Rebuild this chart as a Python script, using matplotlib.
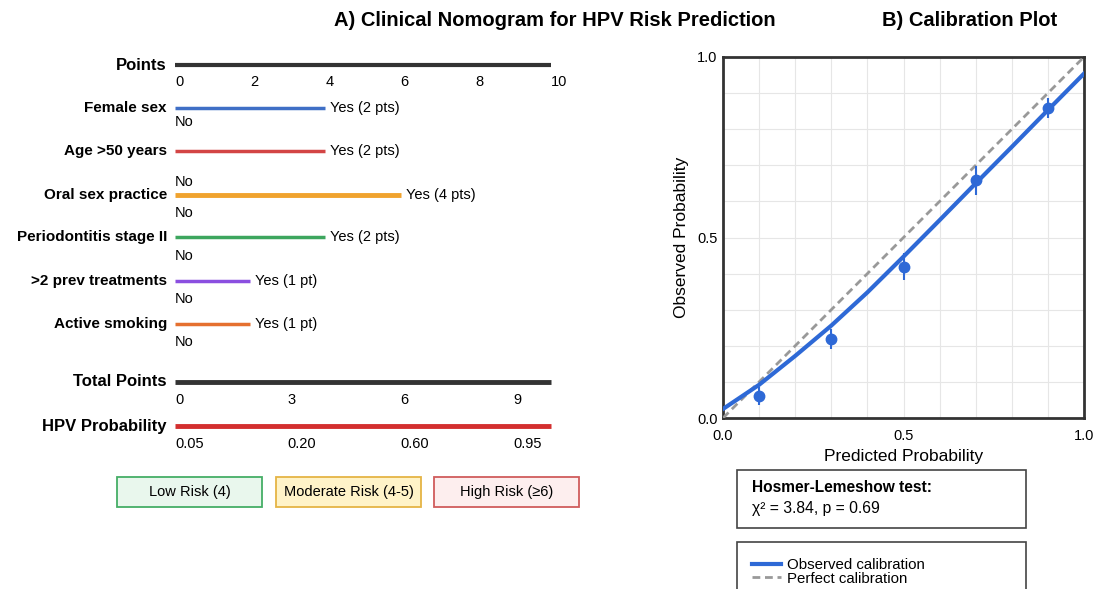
import numpy as np
import matplotlib
matplotlib.use("Agg")
import matplotlib.pyplot as plt
from matplotlib.patches import Rectangle
from matplotlib.lines import Line2D

plt.rcParams["font.family"] = ["Liberation Sans", "DejaVu Sans"]

# ── nomogram data ────────────────────────────────────────────────────────────
predictors = ["Female sex", "Age >50 years", "Oral sex practice",
              "Periodontitis stage II", ">2 prev treatments", "Active smoking"]
pred_scale = [4, 4, 6, 4, 2, 2]                 # length on the Points axis
yes_labels = ["Yes (2 pts)", "Yes (2 pts)", "Yes (4 pts)",
              "Yes (2 pts)", "Yes (1 pt)", "Yes (1 pt)"]
pred_colors = ["#3F6FC6", "#D34545", "#F0A32E", "#3DA65E", "#8B4FE0", "#E5702F"]
pred_lw = [2.5, 2.5, 3.5, 2.5, 2.5, 2.5]

points_ticks = [0, 2, 4, 6, 8, 10]
total_ticks = [0, 3, 6, 9]
prob_labels = ["0.05", "0.20", "0.60", "0.95"]

risk_groups = ["Low Risk (4)", "Moderate Risk (4-5)", "High Risk (\u22656)"]
risk_face = ["#E9F7ED", "#FFF3C8", "#FDEEEE"]
risk_edge = ["#45AE66", "#E5B445", "#D05C5C"]

# ── calibration data ─────────────────────────────────────────────────────────
curve_x = [0.0, 0.1, 0.2, 0.3, 0.4, 0.5, 0.6, 0.7, 0.8, 0.9, 1.0]
curve_y = [0.025, 0.092, 0.172, 0.256, 0.348, 0.447, 0.548, 0.65, 0.751, 0.853, 0.954]
bin_x = [0.1, 0.3, 0.5, 0.7, 0.9]
bin_y = [0.06, 0.219, 0.419, 0.659, 0.859]
bin_err = [0.025, 0.028, 0.038, 0.04, 0.028]

BLUE = "#2E69D6"
DASH = (0, (2.8, 1.7))

W, H = 1094, 589
fig = plt.figure(figsize=(W / 100, H / 100), dpi=100)
fig.patch.set_facecolor("white")

# nomogram: x in points units, y in pixel rows
x0, ppt = 175, 37.6
ax = fig.add_axes([0, 0, 1, 1])
ax.set_xlim(-x0 / ppt, (W - x0) / ppt)
ax.set_ylim(H, 0)
ax.axis("off")

lab_x = -8 / ppt
row_y = [108, 151, 195, 237, 281, 324]
no_dy = [14, 31, 18, 19, 18, 18]

# Points axis
ax.plot([0, 10], [65, 65], color="#333333", lw=3, solid_capstyle="butt")
ax.text(lab_x, 65, "Points", ha="right", va="center", fontsize=12, fontweight="bold")
for t in points_ticks:
    ax.text(t, 82, str(t), ha="left", va="center", fontsize=10.5)

for name, ln, yl, c, lw, y, dy in zip(predictors, pred_scale, yes_labels,
                                      pred_colors, pred_lw, row_y, no_dy):
    ax.plot([0, ln], [y, y], color=c, lw=lw, solid_capstyle="butt")
    ax.text(lab_x, y, name, ha="right", va="center", fontsize=11, fontweight="bold")
    ax.text(ln + 5 / ppt, y, yl, ha="left", va="center", fontsize=10.5)
    ax.text(0, y + dy, "No", ha="left", va="center", fontsize=10.5)

# Total points + probability
ax.plot([0, 10], [382, 382], color="#333333", lw=3.5, solid_capstyle="butt")
ax.text(lab_x, 382, "Total Points", ha="right", va="center", fontsize=12, fontweight="bold")
for t in total_ticks:
    ax.text(t, 400, str(t), ha="left", va="center", fontsize=10.5)

ax.plot([0, 10], [426, 426], color="#D32F2F", lw=3.5, solid_capstyle="butt")
ax.text(lab_x, 426, "HPV Probability", ha="right", va="center", fontsize=12, fontweight="bold")
for t, lbl in zip(total_ticks, prob_labels):
    ax.text(t, 444, lbl, ha="left", va="center", fontsize=10.5)

# risk boxes
box_left = [117, 276, 434]
for bx, txt, fc, ec in zip(box_left, risk_groups, risk_face, risk_edge):
    fig.add_artist(Rectangle((bx / W, 1 - 507 / H), 145 / W, 30 / H,
                             transform=fig.transFigure, facecolor=fc,
                             edgecolor=ec, lw=1.3))
    fig.text((bx + 72.5) / W, 1 - 492 / H, txt, ha="center", va="center", fontsize=10.5)

fig.text(555 / W, 1 - 20 / H, "A) Clinical Nomogram for HPV Risk Prediction",
         ha="center", va="center", fontsize=14.5, fontweight="bold")
fig.text(970 / W, 1 - 20 / H, "B) Calibration Plot",
         ha="center", va="center", fontsize=14.5, fontweight="bold")

# ── calibration plot ─────────────────────────────────────────────────────────
cx = fig.add_axes([723 / W, 1 - 418 / H, 361 / W, 361 / H])
cx.set_xlim(0, 1)
cx.set_ylim(0, 1)
cx.set_xticks([0, 0.5, 1.0])
cx.set_yticks([0, 0.5, 1.0])
cx.set_xticks(np.arange(0, 1.01, 0.1), minor=True)
cx.set_yticks(np.arange(0, 1.01, 0.1), minor=True)
cx.grid(which="both", color="#e6e6e6", lw=0.8)
cx.tick_params(which="both", length=0, labelsize=10.5)
cx.tick_params(axis="x", pad=8)
cx.tick_params(axis="y", pad=4)
cx.xaxis.set_major_formatter(matplotlib.ticker.FormatStrFormatter("%.1f"))
cx.yaxis.set_major_formatter(matplotlib.ticker.FormatStrFormatter("%.1f"))
for sp in cx.spines.values():
    sp.set_linewidth(2)
    sp.set_edgecolor("#333333")

cx.plot([0, 1], [0, 1], color="#999999", lw=2, ls=DASH, zorder=3)
cx.plot(curve_x, curve_y, color=BLUE, lw=3, zorder=4)
cx.errorbar(bin_x, bin_y, yerr=bin_err, fmt="o", color=BLUE, ms=7.5,
            elinewidth=1.5, capsize=0, zorder=5)
cx.set_xlabel("Predicted Probability", fontsize=12.5, labelpad=4)
cx.set_ylabel("Observed Probability", fontsize=12.5, labelpad=6)

# Hosmer-Lemeshow box
fig.add_artist(Rectangle((737 / W, 1 - 528 / H), 289 / W, 58 / H,
                         transform=fig.transFigure, facecolor="white",
                         edgecolor="#444444", lw=1.2))
fig.text(752 / W, 1 - 488 / H, "Hosmer-Lemeshow test:", ha="left", va="center",
         fontsize=11.2, fontweight="bold")
fig.text(752 / W, 1 - 509 / H, "\u03c7\u00b2 = 3.84, p = 0.69", ha="left", va="center",
         fontsize=11.3)

# legend box (cut off at bottom)
fig.add_artist(Rectangle((737 / W, 1 - 610 / H), 289 / W, 68 / H,
                         transform=fig.transFigure, facecolor="white",
                         edgecolor="#444444", lw=1.2))
handles = [Line2D([], [], color=BLUE, lw=3),
           Line2D([], [], color="#999999", lw=2, ls=DASH)]
fig.legend(handles, ["Observed calibration", "Perfect calibration"],
           loc="upper left", bbox_to_anchor=(752 / W, 1 - 558 / H),
           frameon=False, fontsize=10.8, handlelength=1.9, handletextpad=0.45,
           labelspacing=-0.02, borderpad=0, borderaxespad=0)

fig.savefig("out.png", dpi=100)
